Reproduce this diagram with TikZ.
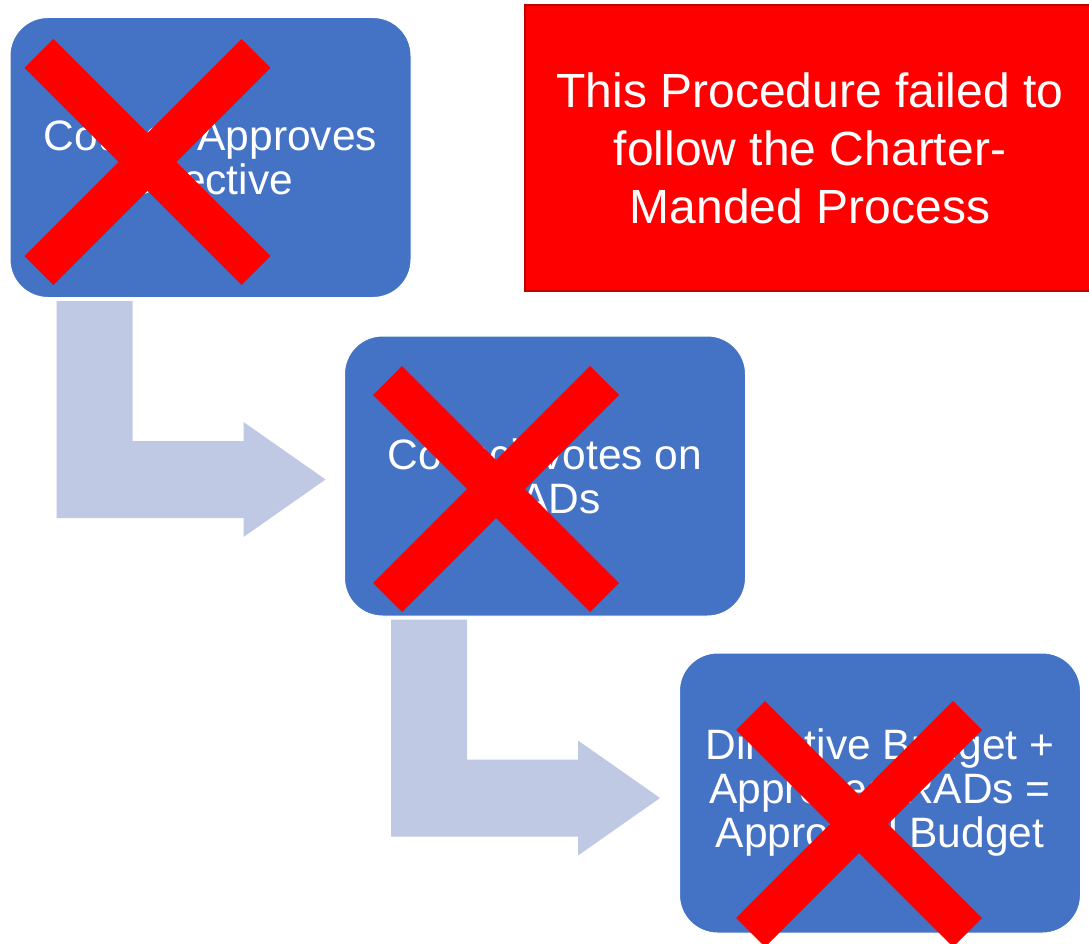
\documentclass[tikz,border=0pt]{standalone}
\usepackage{fontspec}
\setmainfont{Liberation Sans}
\usetikzlibrary{calc}
\definecolor{boxblue}{RGB}{68,114,196}
\definecolor{arrowblue}{RGB}{191,201,227}
\definecolor{xred}{RGB}{255,0,0}
\definecolor{borderred}{RGB}{192,0,0}
\tikzset{
  stepbox/.style={rectangle, rounded corners=38pt, fill=boxblue, draw=white, line width=1pt,
    minimum width=401pt, minimum height=280pt, inner sep=0pt, align=center, text=white,
    font=\fontsize{42.5}{44}\selectfont},
  notebox/.style={rectangle, fill=xred, draw=borderred, line width=2pt,
    minimum width=571pt, minimum height=286pt, inner sep=0pt, align=center, text=white,
    font=\fontsize{48}{58}\selectfont},
  bentarrow/.style={fill=arrowblue},
  cross/.style={draw=xred, line width=41pt, line cap=butt},
}
\begin{document}
\begin{tikzpicture}[x=1pt,y=-1pt]
\useasboundingbox (0,0) rectangle (1089,944);
\fill[white] (0,0) rectangle (1089,944);

% steps
\node[stepbox] (b1) at (210.5,157.5) {Council Approves\\Directive};
\node[stepbox] (b2) at (545,476) {Council votes on\\RADs};
\node[stepbox] (b3) at (880,793) {Directive Budget +\\Approved RADs =\\Approved Budget};

% bent arrows between steps
\fill[bentarrow] ($(b1.south west)+(47,3)$) -- ++(76,0) -- ++(0,140) -- ++(111,0) -- ++(0,-19)
   -- ++(82,57.5) -- ++(-82,57.5) -- ++(0,-19) -- ++(-187,0) -- cycle;
\fill[bentarrow] ($(b2.south west)+(47,3)$) -- ++(76,0) -- ++(0,140) -- ++(111,0) -- ++(0,-19)
   -- ++(82,57.5) -- ++(-82,57.5) -- ++(0,-19) -- ++(-187,0) -- cycle;

% crosses
\coordinate (x1) at (147.5,162);
\coordinate (x2) at (496,489);
\coordinate (x3) at (859,824);
\foreach \c in {x1,x2,x3}{
  \draw[cross] ($(\c)+(-108.5,-108.5)$) -- ($(\c)+(108.5,108.5)$);
  \draw[cross] ($(\c)+(108.5,-108.5)$) -- ($(\c)+(-108.5,108.5)$);
}

% note
\node[notebox] (note) at (810,148) {This Procedure failed to\\follow the Charter-\\Manded Process};
\end{tikzpicture}
\end{document}
